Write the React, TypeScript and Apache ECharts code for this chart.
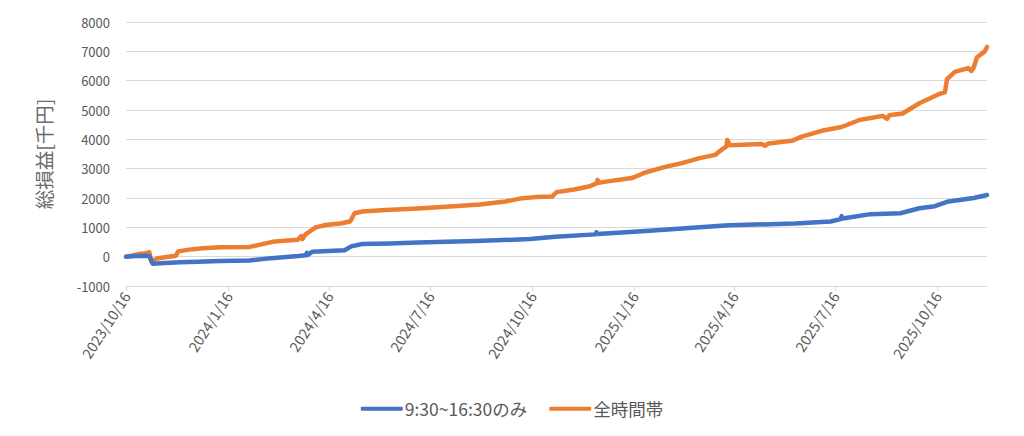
import React, { useEffect, useRef } from "react";
import * as echarts from "echarts";

const seriesNames = ["9:30~16:30のみ", "全時間帯"];

const tickDates = [
  "2023-10-16", "2024-01-16", "2024-04-16", "2024-07-16", "2024-10-16",
  "2025-01-16", "2025-04-16", "2025-07-16", "2025-10-16",
];

const yTicks = { min: -1000, max: 8000, interval: 1000 };

const blueDates = [
  "2023-10-16", "2023-10-25", "2023-11-03", "2023-11-06", "2023-11-09", "2023-11-20",
  "2023-12-04", "2023-12-20", "2024-01-09", "2024-02-04", "2024-02-24", "2024-03-19",
  "2024-03-26", "2024-03-27", "2024-03-28", "2024-04-01", "2024-04-30", "2024-05-06",
  "2024-05-16", "2024-06-10", "2024-07-05", "2024-08-26", "2024-10-14", "2024-11-06",
  "2024-12-12", "2024-12-13", "2024-12-14", "2025-01-30", "2025-03-16", "2025-04-11",
  "2025-06-10", "2025-07-12", "2025-07-21", "2025-07-22", "2025-07-23", "2025-08-17",
  "2025-09-13", "2025-09-30", "2025-10-14", "2025-10-25", "2025-11-18", "2025-11-30",
];
const blueValues = [
  0, 20, 30, 20, -240, -220,
  -190, -170, -150, -130, -50, 20,
  50, 130, 60, 170, 220, 350,
  430, 450, 480, 530, 600, 680,
  760, 830, 770, 880, 1000, 1070,
  1130, 1200, 1280, 1380, 1300, 1450,
  1480, 1650, 1720, 1870, 2000, 2100,
];

const orangeDates = [
  "2023-10-16", "2023-10-22", "2023-10-29", "2023-11-03", "2023-11-06", "2023-11-08",
  "2023-11-13", "2023-11-20", "2023-11-30", "2023-12-02", "2023-12-12", "2023-12-24",
  "2024-01-09", "2024-02-04", "2024-02-15", "2024-02-27", "2024-03-19", "2024-03-22",
  "2024-03-23", "2024-03-26", "2024-04-04", "2024-04-13", "2024-04-26", "2024-05-05",
  "2024-05-09", "2024-05-16", "2024-06-06", "2024-07-05", "2024-08-03", "2024-08-30",
  "2024-09-22", "2024-10-05", "2024-10-19", "2024-11-03", "2024-11-07", "2024-11-23",
  "2024-12-07", "2024-12-13", "2024-12-14", "2024-12-15", "2024-12-20", "2025-01-14",
  "2025-01-26", "2025-02-13", "2025-02-28", "2025-03-16", "2025-03-30", "2025-04-05",
  "2025-04-09", "2025-04-10", "2025-04-12", "2025-05-11", "2025-05-14", "2025-05-17",
  "2025-06-07", "2025-06-16", "2025-07-04", "2025-07-22", "2025-08-07", "2025-08-28",
  "2025-09-01", "2025-09-03", "2025-09-15", "2025-09-30", "2025-10-19", "2025-10-23",
  "2025-10-25", "2025-11-01", "2025-11-13", "2025-11-16", "2025-11-18", "2025-11-21",
  "2025-11-28", "2025-11-30",
];
const orangeValues = [
  0, 40, 100, 120, 150, -180,
  -60, -20, 30, 180, 240, 290,
  320, 330, 420, 520, 580, 700,
  600, 770, 1000, 1080, 1130, 1200,
  1480, 1540, 1590, 1640, 1710, 1780,
  1880, 1980, 2030, 2050, 2200, 2290,
  2400, 2500, 2620, 2520, 2550, 2680,
  2870, 3060, 3190, 3360, 3470, 3650,
  3750, 3980, 3800, 3840, 3780, 3860,
  3950, 4090, 4290, 4420, 4660, 4800,
  4700, 4820, 4880, 5230, 5560, 5600,
  6050, 6300, 6430, 6330, 6450, 6800,
  7000, 7150,
];

const xMin = "2023-10-16";
const xMax = "2025-11-30";

function toTime(s: string): number {
  const [y, m, d] = s.split("-").map(Number);
  return new Date(y, m - 1, d).getTime();
}

export default function App() {
  const ref = useRef<HTMLDivElement>(null);
  useEffect(() => {
    if (!ref.current) return;
    const chart = echarts.init(ref.current, null, { renderer: "svg" });
    const font = "'Noto Sans CJK JP', 'Noto Sans', sans-serif";
    const ticks = tickDates.map(toTime);
    chart.setOption({
      animation: false,
      textStyle: { fontFamily: font },
      grid: { left: 126, right: 37, top: 22, bottom: 150 },
      legend: {
        top: 395,
        left: "center",
        icon: "roundRect",
        itemWidth: 42,
        itemHeight: 4,
        itemGap: 22,
        textStyle: { color: "#595959", fontSize: 17.5, fontFamily: font, padding: [0, 0, 0, -3] },
        data: seriesNames,
      },
      xAxis: {
        type: "value",
        min: toTime(xMin),
        max: toTime(xMax),
        axisLine: { show: true, onZero: false, lineStyle: { color: "#D9D9D9", width: 1 } },
        axisTick: {
          show: true,
          customValues: ticks,
          length: 5,
          lineStyle: { color: "#D9D9D9" },
        },
        axisLabel: {
          customValues: ticks,
          rotate: 57,
          color: "#595959",
          fontSize: 14.5,
          margin: 7,
          showMinLabel: true,
          showMaxLabel: true,
          hideOverlap: false,
          formatter: (v: number) => {
            const d = new Date(v);
            return `${d.getFullYear()}/${d.getMonth() + 1}/${d.getDate()}`;
          },
        },
        splitLine: { show: false },
      },
      yAxis: {
        type: "value",
        min: yTicks.min,
        max: yTicks.max,
        interval: yTicks.interval,
        name: "総損益[千円]",
        nameLocation: "middle",
        nameGap: 73,
        nameRotate: 90,
        nameTextStyle: { color: "#6b6b6b", fontSize: 19.5, fontFamily: font },
        axisLine: { show: false },
        axisTick: { show: false },
        axisLabel: {
          color: "#595959",
          fontSize: 13,
          margin: 16,
          formatter: (v: number) => String(v),
        },
        splitLine: { lineStyle: { color: "#D9D9D9", width: 1 } },
      },
      series: [
        {
          name: seriesNames[0],
          type: "line",
          showSymbol: false,
          data: blueDates.map((d, i) => [toTime(d), blueValues[i]]),
          lineStyle: { color: "#4472C4", width: 4.5, cap: "round", join: "round" },
          itemStyle: { color: "#4472C4" },
          z: 3,
        },
        {
          name: seriesNames[1],
          type: "line",
          showSymbol: false,
          data: orangeDates.map((d, i) => [toTime(d), orangeValues[i]]),
          lineStyle: { color: "#ED7D31", width: 4.5, cap: "round", join: "round" },
          itemStyle: { color: "#ED7D31" },
          z: 2,
        },
      ],
    });
    return () => chart.dispose();
  }, []);
  return (
    <div
      ref={ref}
      style={{ position: "fixed", left: 0, top: 0, width: 1024, height: 436, background: "#fff" }}
    />
  );
}
